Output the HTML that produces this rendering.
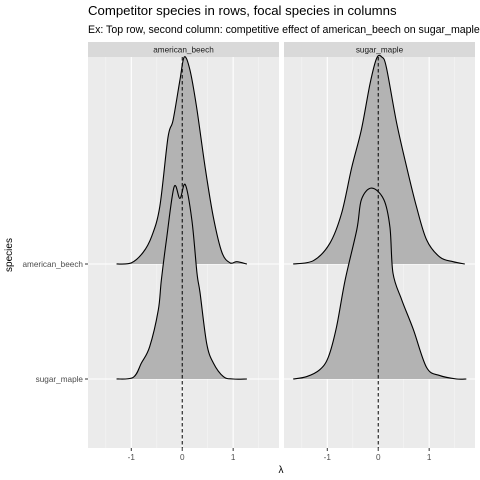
<!DOCTYPE html>
<html><head><meta charset="utf-8"><style>
body{margin:0;background:#fff;overflow:hidden;}
svg{display:block;font-family:"Liberation Sans",sans-serif;}
</style></head><body>
<svg id="c" width="480" height="480" viewBox="0 0 480 480">
<text x="88" y="15" font-size="13.2" fill="#000">Competitor species in rows, focal species in columns</text>
<text x="88" y="33" font-size="10.6" fill="#000">Ex: Top row, second column: competitive effect of american_beech on sugar_maple</text>
<g id="g"></g>
<text x="0" y="0" transform="translate(12,255) rotate(-90)" text-anchor="middle" font-size="10">species</text>
<text x="281" y="473" text-anchor="middle" font-size="10">λ</text>
</svg>
<script>
const panels = ["american_beech","sugar_maple"];
const rows = ["american_beech","sugar_maple"];
const xTicks = [-1,0,1];
const beechBeechX = [-1.29,-1.0,-0.77,-0.60,-0.44,-0.28,-0.18,-0.045,0.04,0.15,0.28,0.45,0.61,0.78,0.94,1.07,1.27];
const beechBeechD = [0,0.01,0.10,0.24,0.50,1.10,1.25,1.60,1.80,1.69,1.37,0.84,0.41,0.10,0.01,0.02,0];
const mapleBeechX = [-1.29,-0.96,-0.80,-0.64,-0.47,-0.41,-0.31,-0.16,-0.045,0.06,0.19,0.29,0.35,0.48,0.61,0.81,1.0,1.27];
const mapleBeechD = [0,0.015,0.14,0.28,0.60,0.86,1.21,1.67,1.57,1.69,1.38,0.92,0.75,0.31,0.14,0.02,0,0];
const beechMapleX = [-1.67,-1.27,-0.95,-0.72,-0.52,-0.33,-0.16,-0.03,0.07,0.16,0.36,0.56,0.75,0.95,1.21,1.47,1.70];
const beechMapleD = [0,0.03,0.18,0.44,0.84,1.17,1.57,1.79,1.80,1.71,1.23,0.84,0.50,0.21,0.06,0.02,0];
const mapleMapleX = [-1.67,-1.41,-1.15,-0.98,-0.82,-0.65,-0.42,-0.33,-0.13,0.11,0.23,0.29,0.46,0.69,0.95,1.21,1.54,1.73];
const mapleMapleD = [0,0.02,0.08,0.19,0.45,0.86,1.30,1.56,1.66,1.56,1.32,0.92,0.69,0.43,0.10,0.03,0,0];
const series = [
  [[beechBeechX,beechBeechD],[mapleBeechX,mapleBeechD]],
  [[beechMapleX,beechMapleD],[mapleMapleX,mapleMapleD]]
];
const NS="http://www.w3.org/2000/svg";
const g=document.getElementById('g');
function mk(t,a,p){const e=document.createElementNS(NS,t);for(const k in a)e.setAttribute(k,a[k]);(p||g).appendChild(e);return e;}
const panelX=[88,284], pw=191, pTop=57, pBot=448, stripTop=42;
const xmin=-1.85,xmax=1.90;
const rowY=[264,379], rowStep=115;
function sx(p,v){return panelX[p]+(v-xmin)/(xmax-xmin)*pw;}
function sy(r,d){return rowY[r]-d*rowStep;}
function smooth(pts){let s="M"+pts[0][0]+","+pts[0][1];for(let i=0;i<pts.length-1;i++){const p0=pts[Math.max(0,i-1)],p1=pts[i],p2=pts[i+1],p3=pts[Math.min(pts.length-1,i+2)];const c1x=p1[0]+(p2[0]-p0[0])/6,c1y=p1[1]+(p2[1]-p0[1])/6,c2x=p2[0]-(p3[0]-p1[0])/6,c2y=p2[1]-(p3[1]-p1[1])/6;s+=` C${c1x},${c1y} ${c2x},${c2y} ${p2[0]},${p2[1]}`;}return s;}
panels.forEach((pn,p)=>{
  const bg=mk('rect',{x:panelX[p],y:pTop,width:pw,height:pBot-pTop,fill:'#ebebeb'});
  
  
  const st=mk('rect',{x:panelX[p],y:stripTop,width:pw,height:pTop-stripTop,fill:'#d9d9d9'});
  
  
  const stt=mk('text',{x:panelX[p]+pw/2,y:52.5,'text-anchor':'middle','font-size':'8.2',fill:'#1a1a1a'});
  stt.textContent=pn;
  
  
  [-1.5,-0.5,0.5,1.5].forEach(v=>{mk('line',{x1:sx(p,v),x2:sx(p,v),y1:pTop,y2:pBot,stroke:'#f5f5f5','stroke-width':0.6});});
  xTicks.forEach(v=>{mk('line',{x1:sx(p,v),x2:sx(p,v),y1:pTop,y2:pBot,stroke:'#fff','stroke-width':1.1});
    mk('line',{x1:sx(p,v),x2:sx(p,v),y1:pBot,y2:pBot+3,stroke:'#333','stroke-width':1});
    const t=mk('text',{x:sx(p,v),y:pBot+12,'text-anchor':'middle','font-size':'8.2',fill:'#4d4d4d'});t.textContent=String(v);
    
    });
  rowY.forEach(y=>mk('line',{x1:panelX[p],x2:panelX[p]+pw,y1:y,y2:y,stroke:'#fff','stroke-width':1.1}));
  series[p].forEach((s,r)=>{
    const pts=s[0].map((x,i)=>[sx(p,x),sy(r,s[1][i])]);
    const d=smooth(pts);
    const f=mk('path',{d:d+` L${pts[pts.length-1][0]},${rowY[r]} L${pts[0][0]},${rowY[r]} Z`,fill:'#b3b3b3',stroke:'none'});
    
    
    mk('path',{d:d,fill:'none',stroke:'#000','stroke-width':1.1});
  });
  const vl=mk('line',{x1:sx(p,0),x2:sx(p,0),y1:pTop,y2:pBot,stroke:'#000','stroke-width':1,'stroke-dasharray':'3.5,2.5'});
  
  
});
rows.forEach((rn,r)=>{
  mk('line',{x1:85,x2:88,y1:rowY[r],y2:rowY[r],stroke:'#333','stroke-width':1});
  const t=mk('text',{x:83,y:rowY[r]+3,'text-anchor':'end','font-size':'8.2',fill:'#4d4d4d'});t.textContent=rn;
  
  
});
</script>
</body></html>
